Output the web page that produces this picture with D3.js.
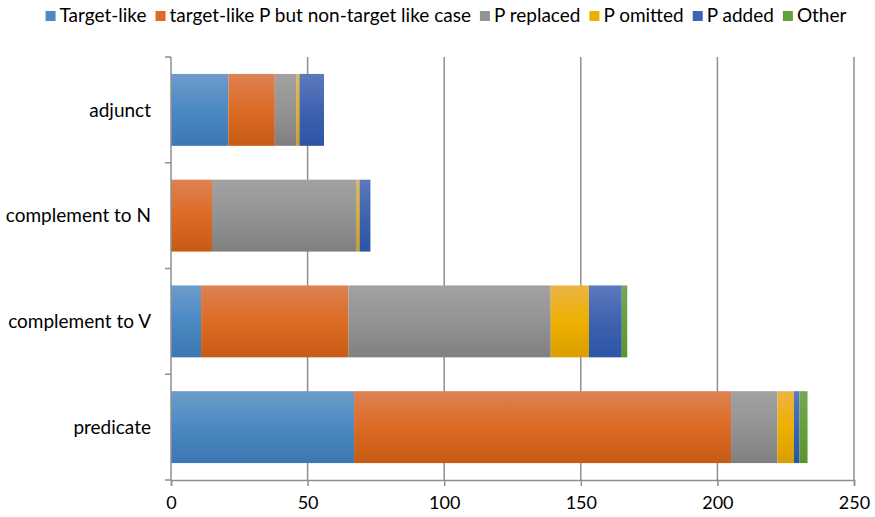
<!DOCTYPE html>
<html lang="en">
<head>
<meta charset="utf-8">
<title>Preposition errors</title>
<script src="https://cdn.jsdelivr.net/npm/d3@7"></script>
<style>
  body { margin: 0; background: #fff; }
  text { font-family: Lato, "Open Sans", sans-serif; fill: #000; }
</style>
</head>
<body>
<svg id="chart" width="875" height="517"></svg>
<script>
// data
var categories = ["adjunct", "complement to N", "complement to V", "predicate"];
var seriesNames = ["Target-like", "target-like P but non-target like case", "P replaced", "P omitted", "P added", "Other"];
var targetLike   = [21, 0, 11, 67];
var targetLikeP  = [17, 15, 54, 138];
var pReplaced    = [8, 53, 74, 17];
var pOmitted     = [1, 1, 14, 6];
var pAdded       = [9, 4, 12, 2];
var other        = [0, 0, 2, 3];
var xTicks = [0, 50, 100, 150, 200, 250];

// colours: top, middle, bottom of the gradient
var colors = [
  ["#6d9cca", "#4b89c3", "#3c77b2"],
  ["#dd8254", "#dc6b24", "#c75b15"],
  ["#a2a2a2", "#939393", "#808080"],
  ["#ebb544", "#eeb000", "#d99e00"],
  ["#5b79bd", "#3e63b0", "#2c55a4"],
  ["#74a757", "#66a03e", "#59942f"]
];

var rows = categories.map(function(c, i) {
  return { cat: c, "0": targetLike[i], "1": targetLikeP[i], "2": pReplaced[i],
           "3": pOmitted[i], "4": pAdded[i], "5": other[i] };
});
var keys = ["0", "1", "2", "3", "4", "5"];
var stacked = d3.stack().keys(keys)(rows);

var svg = d3.select("#chart");
var plotLeft = 171, plotRight = 854, plotTop = 57, plotBottom = 480;

var x = d3.scaleLinear().domain([0, 250]).range([plotLeft, plotRight]);
var y = d3.scaleBand().domain(categories).range([plotTop, plotBottom]).paddingInner(0.32).paddingOuter(0.16);

// gradients
var defs = svg.append("defs");
colors.forEach(function(c, i) {
  var g = defs.append("linearGradient").attr("id", "g" + i)
    .attr("x1", 0).attr("y1", 0).attr("x2", 0).attr("y2", 1);
  g.append("stop").attr("offset", "0%").attr("stop-color", c[0]);
  g.append("stop").attr("offset", "50%").attr("stop-color", c[1]);
  g.append("stop").attr("offset", "100%").attr("stop-color", c[2]);
});

// gridlines
svg.append("g").selectAll("line").data(xTicks.slice(1)).enter().append("line")
  .attr("x1", function(d) { return x(d); }).attr("x2", function(d) { return x(d); })
  .attr("y1", plotTop).attr("y2", plotBottom)
  .attr("stroke", "#8f8f8f").attr("stroke-width", 1.5);

// bars
svg.append("g").selectAll("g").data(stacked).enter().append("g")
  .attr("fill", function(d, i) { return "url(#g" + i + ")"; })
  .selectAll("rect").data(function(d) { return d; }).enter().append("rect")
  .attr("x", function(d) { return x(d[0]); })
  .attr("width", function(d) { return x(d[1]) - x(d[0]); })
  .attr("y", function(d) { return y(d.data.cat); })
  .attr("height", y.bandwidth());

// x axis
var xAxis = svg.append("g").attr("transform", "translate(0," + plotBottom + ")")
  .call(d3.axisBottom(x).tickValues(xTicks).tickSize(6).tickPadding(10));
xAxis.select(".domain").attr("stroke", "#8f8f8f").attr("stroke-width", 1.5);
xAxis.selectAll(".tick line").attr("stroke", "#8f8f8f").attr("stroke-width", 1.5);
xAxis.selectAll("text").style("font-size", "18px").attr("fill", "#000");

// y axis line and ticks between categories
svg.append("line").attr("x1", plotLeft).attr("x2", plotLeft).attr("y1", plotTop).attr("y2", plotBottom)
  .attr("stroke", "#8f8f8f").attr("stroke-width", 1.5);
svg.append("g").selectAll("line").data(d3.range(categories.length + 1)).enter().append("line")
  .attr("x1", plotLeft - 6).attr("x2", plotLeft)
  .attr("y1", function(i) { return plotTop + i * (plotBottom - plotTop) / categories.length; })
  .attr("y2", function(i) { return plotTop + i * (plotBottom - plotTop) / categories.length; })
  .attr("stroke", "#8f8f8f").attr("stroke-width", 1.5);

svg.append("g").selectAll("text").data(categories).enter().append("text")
  .attr("x", 151).attr("y", function(d) { return y(d) + y.bandwidth() / 2; })
  .attr("dy", "0.35em").attr("text-anchor", "end").style("font-size", "19px")
  .text(function(d) { return d; });

// legend
var legend = svg.append("g");
var lx = 0;
seriesNames.forEach(function(name, i) {
  var item = legend.append("g").attr("transform", "translate(" + lx + ",0)");
  item.append("rect").attr("x", 0).attr("y", -11).attr("width", 10).attr("height", 10)
    .attr("fill", colors[i][1]);
  var t = item.append("text").attr("x", 14).attr("y", 0).style("font-size", "19px").text(name);
  lx += 14 + t.node().getComputedTextLength() + 9;
});
lx -= 9;
legend.attr("transform", "translate(" + (446 - lx / 2) + ",22)");
</script>
</body>
</html>
